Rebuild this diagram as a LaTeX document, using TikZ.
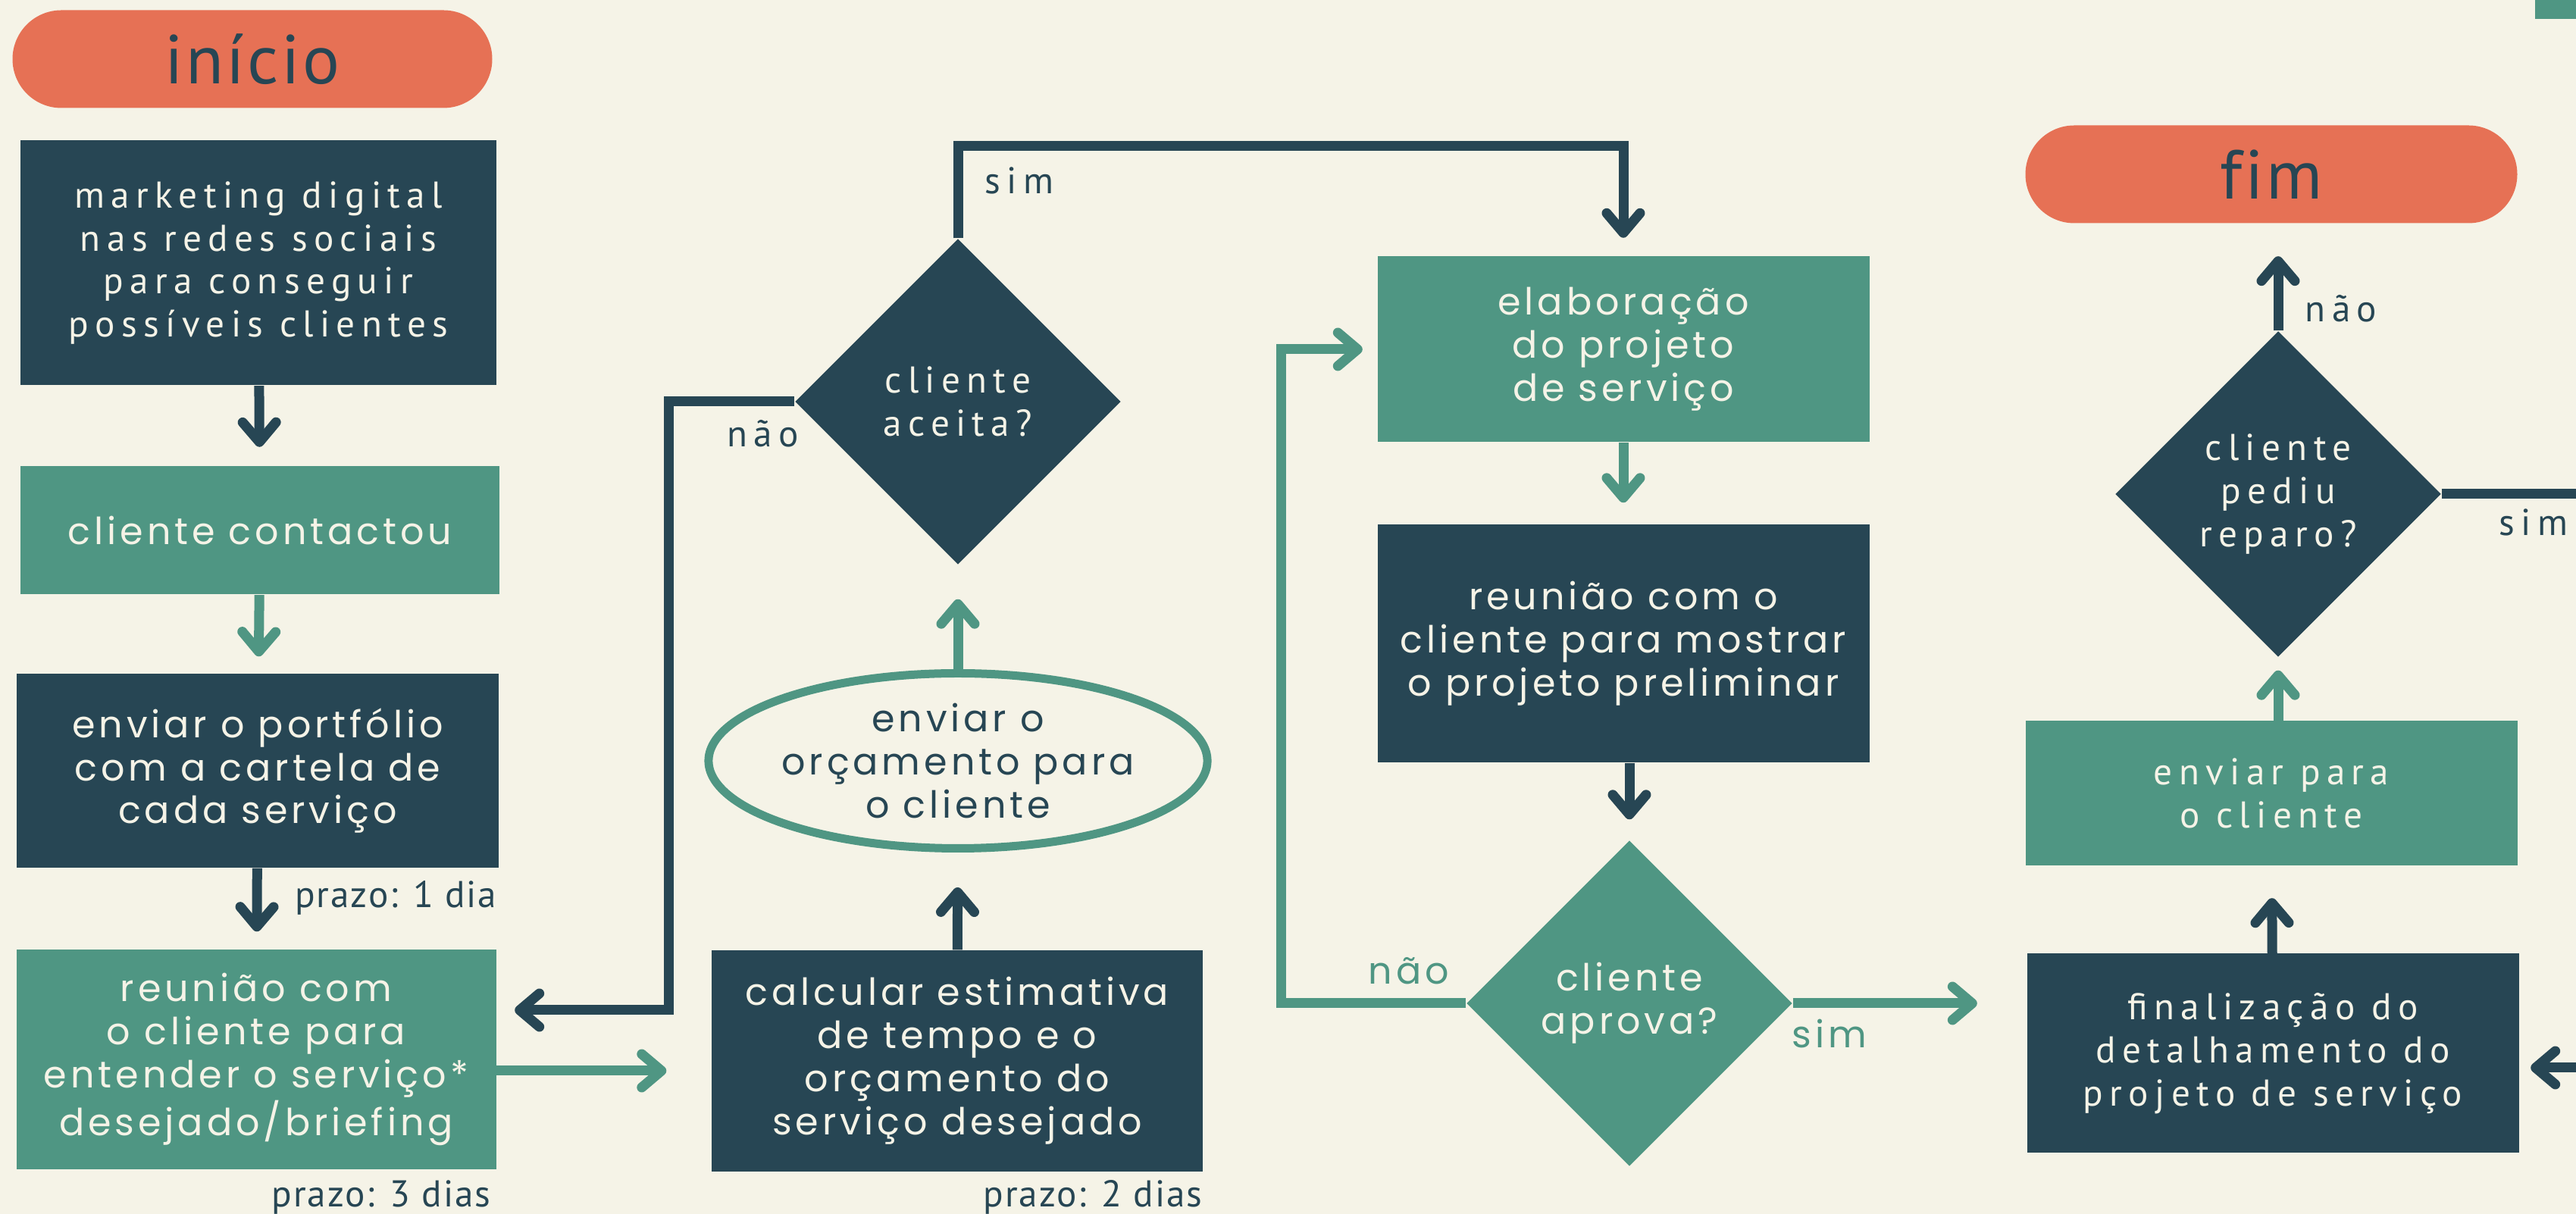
\documentclass[tikz,border=0pt]{standalone}
\usepackage{fontspec}
\usetikzlibrary{arrows.meta,shapes.geometric}
\newfontfamily\fntgeo[LetterSpace=10]{Poppins}
\newfontfamily\fnttrk[LetterSpace=17]{PT Sans}
\newfontfamily\fntplain[LetterSpace=4,Ligatures=NoCommon]{PT Sans}
\definecolor{fundo}{HTML}{F5F3E7}
\definecolor{escuro}{HTML}{274654}
\definecolor{verde}{HTML}{4F9683}
\definecolor{laranja}{HTML}{E67155}
\tikzset{
  txtgeo/.style={font=\fntgeo\fontsize{14pt}{16.2pt}\selectfont},
  txttrk/.style={font=\fnttrk\fontsize{14pt}{16.2pt}\selectfont},
  darkbox/.style={rectangle,fill=escuro,text=fundo,align=center,inner sep=0pt},
  greenbox/.style={rectangle,fill=verde,text=fundo,align=center,inner sep=0pt},
  pill/.style={rectangle,fill=laranja,text=escuro,rounded corners=0.645cm,
    minimum width=6.4cm,minimum height=1.29cm,inner sep=0pt,
    font=\fntplain\fontsize{26pt}{28pt}\selectfont},
  decision/.style={diamond,aspect=1,minimum width=4.3cm,minimum height=4.3cm,
    inner sep=0pt,text=fundo,align=center},
  note/.style={inner sep=0pt,text=escuro,txttrk},
  dkline/.style={draw=escuro,line width=0.13cm,shorten >=0.24cm,
    -{Straight Barb[length=0.26cm,width=0.44cm,line cap=round,line join=round]}},
  grline/.style={dkline,draw=verde},
}
\begin{document}
\begin{tikzpicture}
  \useasboundingbox (0,0) rectangle (33.99,16.02) ;
  \fill[fundo] (0,0) rectangle (33.99,16.02) ;
  \fill[verde] (33.45,16.02) rectangle (33.99,15.77) ;
  \coordinate (borda) at (34.6,0) ;

  % coluna 1
  \node[pill,minimum width=6.33cm] (inicio) at (3.33,15.24) {início} ;
  \node[darkbox,txttrk,minimum width=6.28cm,minimum height=3.23cm] (mkt) at (3.41,12.55)
    {marketing digital\\nas redes sociais\\para conseguir\\possíveis clientes} ;
  \node[greenbox,txtgeo,minimum width=6.31cm,minimum height=1.69cm] (contato) at (3.43,9.02)
    {cliente contactou} ;
  \node[darkbox,txtgeo,minimum width=6.36cm,minimum height=2.56cm] (portf) at (3.40,5.85)
    {enviar o portfólio\\com a cartela de\\cada serviço} ;
  \node[greenbox,txtgeo,minimum width=6.33cm,minimum height=2.90cm] (reun) at (3.38,2.04)
    {reunião com\\o cliente para\\entender o serviço*\\desejado/briefing} ;
  \node[note,font=\fntplain\fontsize{14pt}{16.2pt}\selectfont,anchor=base east] (prazo1) at (6.56,4.04) {prazo: 1 dia} ;
  \node[note,font=\fntplain\fontsize{14pt}{16.2pt}\selectfont,anchor=base east] (prazo3) at (6.48,0.09) {prazo: 3 dias} ;

  % coluna 2
  \node[decision,fill=escuro,txttrk] (aceita) at (12.64,10.72) {cliente\\aceita?} ;
  \node[ellipse,draw=verde,line width=0.11cm,minimum width=6.29cm,minimum height=2.31cm,
    inner sep=0pt,text=escuro,align=center,txtgeo] (orcam) at (12.64,5.98)
    {enviar o\\orçamento para\\o cliente} ;
  \node[darkbox,txtgeo,minimum width=6.48cm,minimum height=2.92cm] (calc) at (12.63,2.02)
    {calcular estimativa\\de tempo e o\\orçamento do\\serviço desejado} ;
  \node[note,font=\fntplain\fontsize{14pt}{16.2pt}\selectfont,anchor=base east] (prazo2) at (15.87,0.09) {prazo: 2 dias} ;
  \node[note,anchor=base west] (naoA) at (9.59,10.12) {não} ;
  \node[note,anchor=base west] (simA) at (12.99,13.46) {sim} ;

  % coluna 3
  \node[greenbox,txtgeo,minimum width=6.49cm,minimum height=2.45cm] (elab) at (21.42,11.41)
    {elaboração\\do projeto\\de serviço} ;
  \node[darkbox,txtgeo,minimum width=6.49cm,minimum height=3.14cm] (mostrar) at (21.42,7.53)
    {reunião com o\\cliente para mostrar\\o projeto preliminar} ;
  \node[decision,fill=verde,txtgeo] (aprova) at (21.50,2.78) {cliente\\aprova?} ;
  \node[note,txtgeo,text=verde,anchor=base west] (naoB) at (18.05,3.03) {não} ;
  \node[note,txtgeo,text=verde,anchor=base west] (simB) at (23.64,2.19) {sim} ;

  % coluna 4
  \node[pill,minimum width=6.49cm] (fim) at (29.97,13.72) {fim} ;
  \node[decision,fill=escuro,txttrk] (pediu) at (30.06,9.50) {cliente\\pediu\\reparo?} ;
  \node[greenbox,txttrk,minimum width=6.49cm,minimum height=1.91cm] (envia) at (29.97,5.55)
    {enviar para\\o cliente} ;
  \node[darkbox,txttrk,minimum width=6.49cm,minimum height=2.63cm] (fin) at (29.99,2.12)
    {finalização do\\detalhamento do\\projeto de serviço} ;
  \node[note,anchor=base west] (naoC) at (30.41,11.77) {não} ;
  \node[note,anchor=base west] (simC) at (32.97,8.95) {sim} ;

  % ligacoes
  \draw[dkline,shorten >=0.25cm] (mkt) -- (contato) ;
  \draw[grline,shorten >=0.22cm] (contato) -- (portf) ;
  \draw[dkline,shorten >=0.23cm] (portf) -- (reun) ;
  \draw[grline,shorten >=0.59cm] ([yshift=-0.15cm]reun.east) -- ([yshift=-0.15cm]reun.east -| calc.west) ;
  \draw[dkline,shorten >=0.46cm] (calc) -- (orcam) ;
  \draw[grline,shorten >=0.45cm] (orcam) -- (aceita) ;
  \draw[dkline] (aceita.west) -- ++(-1.66,0) |- ([yshift=0.65cm]reun.east) ;
  \draw[dkline] (aceita.north) -- ++(0,1.22) -| (elab.north) ;
  \draw[grline,shorten >=0.28cm] (elab) -- (mostrar) ;
  \draw[dkline,shorten >=0.27cm] (mostrar.south -| aprova.north) -- (aprova.north) ;
  \draw[grline,shorten >=0.19cm] (aprova.west) -- ++(-2.44,0) |- (elab.west) ;
  \draw[grline,shorten >=0.65cm] (aprova.east) -- (aprova.east -| fin.west) ;
  \draw[dkline,shorten >=0.42cm] (fin) -- (envia) ;
  \draw[grline,shorten >=0.17cm] (envia.north -| pediu.south) -- (pediu.south) ;
  \draw[dkline,shorten >=0.43cm] (pediu.north) -- (pediu.north |- fim.south) ;
  \draw[draw=escuro,line width=0.13cm] (pediu.east) -- (pediu.east -| borda) ;
  \draw[dkline,shorten >=0.15cm] ([yshift=-0.19cm]fin.east -| borda) -- ([yshift=-0.19cm]fin.east) ;
\end{tikzpicture}
\end{document}
